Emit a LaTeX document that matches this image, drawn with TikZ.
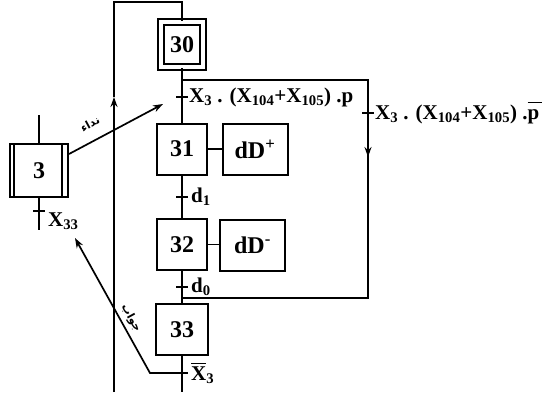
\documentclass[tikz,border=0pt]{standalone}
\usepackage{fontspec}
\setmainfont{Liberation Serif}
\newfontfamily\arabicfont[Script=Arabic]{DejaVu Sans}
\TeXXeTstate=1
\usetikzlibrary{arrows.meta,calc}
\newcommand\ovbar[1]{\leavevmode\rlap{\rule[0.78em]{0.7em}{1.3pt}}#1}
\begin{document}
\begin{tikzpicture}[x=1pt,y=-1pt,
  ln/.style={line width=1.7pt},
  gstep/.style={draw,line width=2pt,minimum width=50pt,minimum height=51pt,inner sep=0pt,font=\fontsize{24}{24}\selectfont\bfseries},
  act/.style={draw,line width=2pt,minimum width=65pt,minimum height=51pt,inner sep=0pt,font=\fontsize{24}{24}\selectfont\bfseries},
  tick/.style={line width=2.2pt},
  cond/.style={font=\fontsize{21}{21}\selectfont\bfseries,anchor=west,inner sep=1pt},
  arr/.style={-{Stealth[length=10pt,width=7pt]}},
  ar/.style={font=\arabicfont\fontsize{11}{11}\selectfont\bfseries}]
\useasboundingbox (0,0) rectangle (547,392);
% steps
\node[gstep,double,double distance=4pt,minimum width=42pt,minimum height=45pt] (s30) at (182,44.5) {30};
\node[gstep] (s31) at (182,149) {31};
\node[act] (a31) at (255,149) {dD\textsuperscript{+}};
\node[gstep] (s32) at (182,244.5) {32};
\node[act] (a32) at (252.5,245) {dD\textsuperscript{-}};
\node[gstep,minimum width=52pt] (s33) at (182,329.5) {33};
\node[gstep,minimum width=58pt,minimum height=53pt] (s3) at (39,170.5) {3};
\draw[line width=2pt] ([xshift=5pt]s3.north west) -- ([xshift=5pt]s3.south west);
\draw[line width=2pt] ([xshift=-7pt]s3.north east) -- ([xshift=-7pt]s3.south east);
% coordinates
\coordinate (top1) at (182,2);
\coordinate (top2) at (114,2);
\coordinate (larr) at (114,97);
\coordinate (lbot) at (114,392);
\coordinate (br1) at (182,80);
\coordinate (br2) at (368,80);
\coordinate (t2) at (368,113);
\coordinate (rarr) at (368,157);
\coordinate (br3) at (368,298);
\coordinate (br4) at (182,298);
\coordinate (t1) at (182,97);
\coordinate (t3) at (182,197);
\coordinate (t4) at (182,287);
\coordinate (t5) at (182,373);
\coordinate (mbot) at (182,392);
\coordinate (s3top) at (39,115);
\coordinate (s3bot) at (39,230);
\coordinate (t6) at (39,211);
\coordinate (call) at (163,104);
\coordinate (ans1) at (150,373);
\coordinate (ans2) at (75,238);
% main links
\draw[ln] (s30.south) -- (s31.north);
\draw[ln] (s31.south) -- (s32.north);
\draw[ln] (s32.south) -- (s33.north);
\draw[ln] (s33.south) -- (mbot);
\draw[ln] (s31.east) -- (a31.west);
\draw[ln] (s32.east) -- (s32.east -| a32.west);
% loop back
\draw[ln,arr] (lbot) -- (larr);
\draw[ln] (larr) -- (top2) -- (top1) -- (s30.north);
% skip branch
\draw[ln] (br1) -- (br2) -- (rarr);
\draw[ln,arr] (br2) -- (rarr);
\draw[ln] (rarr) -- (br3) -- (br4);
% step 3 links
\draw[ln] (s3top) -- (s3.north);
\draw[ln] (s3.south) -- (s3bot);
% ticks
\foreach \t in {t1,t2,t3,t4,t5,t6}
  \draw[tick] ([xshift=-6pt]\t) -- ([xshift=6pt]\t);
% conditions
\node[cond] at ([xshift=6pt]t1) {X\textsubscript{3} . (X\textsubscript{104}+X\textsubscript{105}) .p};
\node[cond] at ([xshift=6pt]t2) {X\textsubscript{3} . (X\textsubscript{104}+X\textsubscript{105}) .\ovbar{p}};
\node[cond] at ([xshift=8pt]t3) {d\textsubscript{1}};
\node[cond] at ([xshift=8pt]t4) {d\textsubscript{0}};
\node[cond] at ([xshift=8pt]t5) {\ovbar{X}\textsubscript{3}};
\node[cond] at ([xshift=8pt,yshift=-10pt]t6) {X\textsubscript{33}};
% coordination arrows
\draw[ln,arr] ([yshift=16.5pt]s3.east) -- (call);
\node[ar,rotate=28.5] (lcall) at (90,124) {\beginR نداء\endR};
\draw[ln,arr] (t5) -- (ans1) -- (ans2);
\node[ar,rotate=-61] (lans) at (131,318) {\beginR جواب\endR};
\end{tikzpicture}
\end{document}
